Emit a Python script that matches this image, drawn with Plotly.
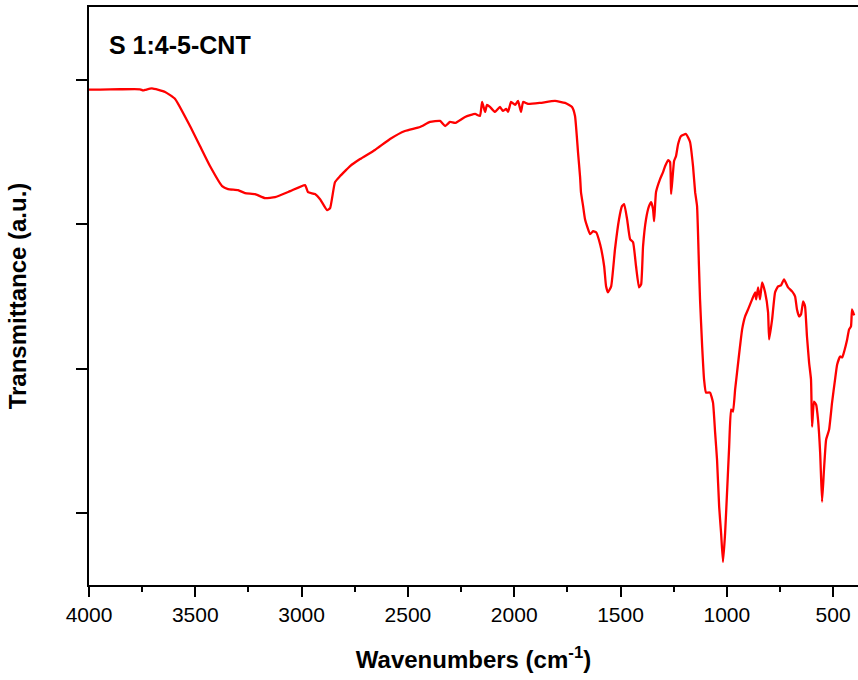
import plotly.graph_objects as go

# Wavenumber (cm^-1) and transmittance (a.u.)
wavenumber = [
    4000, 3948, 3854, 3760, 3746, 3737, 3704, 3642, 3595, 3525, 3478, 3431, 3374, 3346,
    3299, 3266, 3219, 3172, 3125, 3054, 2984, 2970, 2937, 2913, 2880, 2866, 2843, 2819,
    2796, 2772, 2725, 2655, 2584, 2514, 2443, 2396, 2349, 2325, 2302, 2278, 2231, 2184,
    2161, 2151, 2137, 2128, 2114, 2090, 2067, 2053, 2038, 2029, 2015, 1996, 1982, 1968,
    1958, 1935, 1878, 1808, 1761, 1728, 1714, 1700, 1690, 1686, 1676, 1667, 1643, 1629,
    1615, 1596, 1577, 1568, 1559, 1544, 1526, 1507, 1493, 1483, 1469, 1455, 1441, 1427,
    1413, 1403, 1394, 1380, 1366, 1356, 1347, 1342, 1333, 1314, 1300, 1290, 1276, 1267,
    1262, 1248, 1239, 1229, 1215, 1192, 1173, 1159, 1149, 1140, 1131, 1126, 1116, 1107,
    1098, 1079, 1065, 1055, 1046, 1036, 1027, 1018, 1008, 999, 989, 980, 971, 961,
    952, 938, 928, 914, 900, 881, 867, 862, 853, 844, 834, 820, 806, 801,
    787, 773, 759, 745, 731, 712, 693, 679, 670, 660, 651, 641, 632, 623,
    613, 604, 599, 590, 580, 571, 561, 552, 543, 533, 519, 505, 491, 481,
    467, 457, 448, 434, 425, 416, 411, 401,
]
transmittance = [
    78.65, 78.65, 78.7, 78.7, 78.54, 78.6, 78.82, 78.33, 77.36, 73.61, 70.83, 68.06, 65.28, 64.86,
    64.72, 64.31, 64.17, 63.61, 63.75, 64.58, 65.42, 64.44, 64.17, 63.47, 61.94, 62.22, 65.83, 66.67,
    67.36, 68.06, 69.03, 70.28, 71.81, 72.92, 73.47, 74.17, 74.31, 73.61, 74.17, 74.03, 74.86, 75.28,
    75.0, 76.94, 75.56, 76.53, 76.25, 75.56, 76.25, 75.69, 75.97, 75.56, 76.94, 76.53, 77.08, 75.56,
    76.94, 76.67, 76.81, 77.08, 76.81, 76.25, 75.0, 70.0, 66.5, 64.44, 62.5, 60.69, 58.61, 59.03,
    58.89, 57.22, 54.17, 51.39, 50.56, 51.39, 56.53, 60.69, 62.5, 62.78, 60.69, 57.92, 57.5, 54.17,
    51.25, 51.67, 56.94, 60.69, 62.5, 63.06, 62.08, 60.42, 64.44, 66.25, 67.22, 68.06, 68.89, 68.61,
    64.17, 68.75, 69.44, 71.11, 72.22, 72.5, 71.39, 68.06, 64.44, 62.5, 54.17, 49.58, 43.06, 38.47,
    36.67, 36.67, 35.28, 31.11, 27.36, 20.83, 17.22, 13.19, 17.22, 22.78, 29.17, 34.31, 34.03, 37.08,
    39.44, 43.06, 45.42, 47.22, 48.19, 49.58, 50.56, 49.58, 51.25, 49.58, 51.94, 50.56, 47.78, 44.03,
    46.81, 50.56, 51.39, 51.53, 52.36, 51.25, 50.69, 50.0, 48.19, 47.22, 47.5, 49.31, 48.61, 44.44,
    40.83, 38.47, 31.94, 35.42, 35.0, 32.92, 28.33, 21.53, 25.97, 30.14, 31.53, 35.28, 38.47, 40.56,
    41.67, 41.53, 42.36, 44.03, 45.42, 45.83, 48.19, 47.36,
]

x_ticks = [4000, 3500, 3000, 2500, 2000, 1500, 1000, 500]
y_ticks = [20, 40, 60, 80]
sample_label = "S 1:4-5-CNT"

FONT = "Liberation Sans, Arial, sans-serif"

fig = go.Figure()
fig.add_trace(go.Scatter(
    x=wavenumber, y=transmittance, mode="lines",
    line=dict(color="#FF0000", width=2.3, shape="spline", smoothing=0.4),
    showlegend=False,
))

fig.update_layout(
    width=858, height=680,
    margin=dict(l=89, r=0, t=7, b=95),
    paper_bgcolor="white", plot_bgcolor="white",
    font=dict(family=FONT, color="black"),
    annotations=[dict(
        text="<b>" + sample_label + "</b>", xref="paper", yref="paper",
        x=0.023, y=0.935, xanchor="left", yanchor="middle", showarrow=False,
        font=dict(family=FONT, size=25, color="black"),
    )],
)

fig.update_xaxes(
    range=[4000, 383], tickvals=x_ticks, ticktext=[str(v) for v in x_ticks],
    ticks="outside", ticklen=10, tickwidth=2, tickcolor="black",
    minor=dict(dtick=250, tick0=0, ticks="outside", ticklen=5, tickwidth=2, tickcolor="black"),
    showline=True, linecolor="black", linewidth=2, mirror=True,
    showgrid=False, zeroline=False,
    tickfont=dict(family=FONT, size=21, color="black"),
    title=dict(text="<b>Wavenumbers (cm<sup>-1</sup>)</b>", standoff=26,
               font=dict(family=FONT, size=24, color="black")),
)
fig.update_yaxes(
    range=[10, 90.1], tickvals=y_ticks, showticklabels=False,
    ticks="outside", ticklen=11, tickwidth=2, tickcolor="black",
    showline=True, linecolor="black", linewidth=2, mirror=False,
    showgrid=False, zeroline=False,
    title=dict(text="<b>Transmittance (a.u.)</b>", standoff=43,
               font=dict(family=FONT, size=24, color="black")),
)

fig.write_html("out.html")
